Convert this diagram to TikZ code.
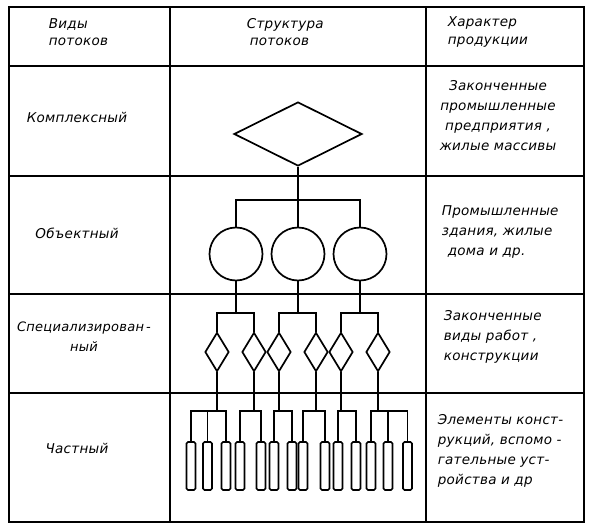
\documentclass[tikz,border=0pt]{standalone}
\usepackage{fontspec}
\setmainfont{DejaVu Sans}[LetterSpace=2]
\usetikzlibrary{shapes.geometric}
\begin{document}
\begin{tikzpicture}[x=1pt,y=-1pt, line width=1.7pt,
  lbl/.style={font=\itshape\fontsize{13.5}{20}\selectfont, inner sep=0pt},
  hdr/.style={font=\itshape\fontsize{13.5}{17.5}\selectfont, inner sep=0pt, align=left, anchor=west},
  bigdiam/.style={draw, diamond, minimum width=128pt, minimum height=64pt, inner sep=0pt},
  circ/.style={draw, circle, minimum size=53pt, inner sep=0pt},
  sdiam/.style={draw, diamond, minimum width=24pt, minimum height=39pt, inner sep=0pt},
  elem/.style={draw, rectangle, rounded corners=1.5pt, minimum width=9pt, minimum height=48pt, inner sep=0pt},
  grid/.style={line width=1.6pt}]
\useasboundingbox (0,0) rectangle (592,530);
\fill[white] (0,0) rectangle (592,530);
% table
\draw[grid] (9,7) rectangle (584,522);
\draw[grid] (170,7) -- (170,522);
\draw[grid] (426,7) -- (426,522);
\draw[grid] (9,66) -- (584,66);
\draw[grid] (9,176) -- (584,176);
\draw[grid] (9,294) -- (584,294);
\draw[grid] (9,393) -- (584,393);
% header
\node[hdr] (h1) at (48,32) {Виды\\потоков};
\node[hdr] (h2) at (246,32) {Структура\\\hspace{3pt}потоков};
\node[hdr] (h3) at (447,32) {Характер\\продукции};
% left column
\node[lbl] (t1) at (77,117) {Комплексный};
\node[lbl] (t2) at (77,233) {Объектный};
\node[lbl, align=center, font=\itshape\fontsize{13}{20}\selectfont] (t3) at (84,337) {Специализирован\,-\\ный};
\node[lbl] (t4) at (77,448) {Частный};
% right column
\node[lbl, align=center] (p1) at (498,116) {Законченные\\промышленные\\предприятия ,\\жилые массивы};
\node[lbl, align=left, anchor=west] (p2) at (441,232) {Промышленные\\здания, жилые\\\hspace{6pt}дома и др.};
\node[lbl, align=left, anchor=west] (p3) at (443,337) {Законченные\\виды работ ,\\конструкции};
\node[lbl, align=left, anchor=west] (p4) at (437,451) {Элементы конст-\\рукций, вспомо -\\гательные уст-\\ройства и др};
% structure
\node[bigdiam] (D) at (298,134) {};
\node[circ] (c1) at (236,254) {};
\node[circ] (c2) at (298,254) {};
\node[circ] (c3) at (360,254) {};
\node[sdiam] (d1) at (217,352) {};
\node[sdiam] (d2) at (254,352) {};
\node[sdiam] (d3) at (279,352) {};
\node[sdiam] (d4) at (316,352) {};
\node[sdiam] (d5) at (341,352) {};
\node[sdiam] (d6) at (378,352) {};
\foreach \i/\x in {1/191,2/207.5,3/226,4/240,5/261,6/274,7/292,8/303,9/325,10/338,11/356,12/371,13/388,14/407.5}
  \node[elem] (r\i) at (\x,466) {};
% connectors level 1
\coordinate (j0) at (298,200);
\draw (D.south) -- (c2.north);
\draw (c1.north) |- (j0) -| (c3.north);
% level 2
\coordinate (k1) at (236,313);
\coordinate (k2) at (298,313);
\coordinate (k3) at (360,313);
\draw (c1.south) -- (k1);
\draw (c2.south) -- (k2);
\draw (c3.south) -- (k3);
\draw (d1.north) |- (k1) -| (d2.north);
\draw (d3.north) |- (k2) -| (d4.north);
\draw (d5.north) |- (k3) -| (d6.north);
% level 3
\coordinate (m1) at (217,411);
\coordinate (m2) at (254,411);
\coordinate (m3) at (279,411);
\coordinate (m4) at (316,411);
\coordinate (m5) at (341,411);
\coordinate (m6) at (378,411);
\draw (d1.south) -- (m1);
\draw (d2.south) -- (m2);
\draw (d3.south) -- (m3);
\draw (d4.south) -- (m4);
\draw (d5.south) -- (m5);
\draw (d6.south) -- (m6);
\draw (r1.north) |- (m1) -| (r3.north);
\draw (r2.north) -- (r2.north |- m1);
\draw (r4.north) |- (m2) -| (r5.north);
\draw (r6.north) |- (m3) -| (r7.north);
\draw (r8.north) |- (m4) -| (r9.north);
\draw (r10.north) |- (m5) -| (r11.north);
\draw (r12.north) |- (m6) -| (r14.north);
\draw (r13.north) -- (r13.north |- m6);
\end{tikzpicture}
\end{document}
